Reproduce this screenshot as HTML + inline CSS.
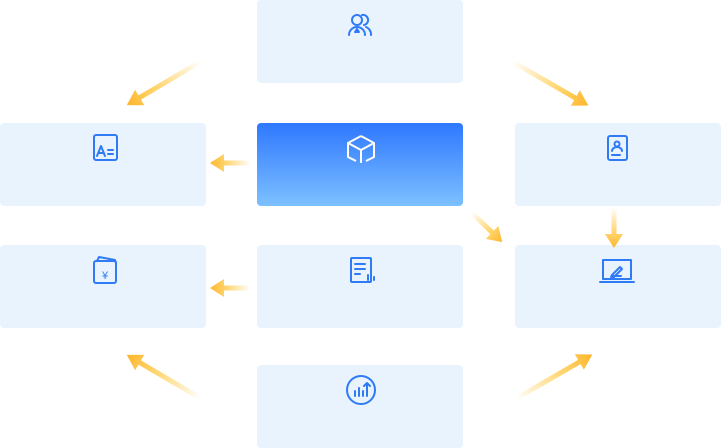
<!DOCTYPE html>
<html><head><meta charset="utf-8"><style>
html,body{margin:0;padding:0;background:#fff;}
body{width:721px;height:448px;overflow:hidden;position:relative;font-family:"Liberation Sans",sans-serif;}
.b{position:absolute;width:206px;height:83px;background:#e9f3fe;border-radius:4px;}
.c{background:linear-gradient(180deg,#2e78ff 0%,#7dc0ff 100%);}
svg{position:absolute;left:0;top:0;}
</style></head><body>
<div class="b" style="left:257px;top:0"></div>
<div class="b" style="left:0;top:123px"></div>
<div class="b c" style="left:257px;top:123px"></div>
<div class="b" style="left:515px;top:123px"></div>
<div class="b" style="left:0;top:245px"></div>
<div class="b" style="left:257px;top:245px"></div>
<div class="b" style="left:515px;top:245px"></div>
<div class="b" style="left:257px;top:365px"></div>
<svg width="721" height="448" viewBox="0 0 721 448">
<defs>
<linearGradient id="g" x1="0" y1="0" x2="1" y2="0">
<stop offset="0" stop-color="#ffc53d" stop-opacity="0"/>
<stop offset="0.6" stop-color="#ffcb4a" stop-opacity="0.8"/>
<stop offset="1" stop-color="#fdb52a"/>
</linearGradient>
<polygon id="a" points="0,-3 0,3 0,3"/>
</defs>
<g fill="url(#g)">
<!-- L = length -->
<g transform="translate(200,62) rotate(149.5)"><polygon points="0,-2.5 70,-2.5 70,-9 85,0 70,9 70,2.5 0,2.5"/></g>
<g transform="translate(513,62) rotate(30)"><polygon points="0,-2.5 72,-2.5 72,-9 87,0 72,9 72,2.5 0,2.5"/></g>
<g transform="translate(250,163) rotate(180)"><polygon points="0,-2.5 26,-2.5 26,-9 40,0 26,9 26,2.5 0,2.5"/></g>
<g transform="translate(472,213) rotate(44)"><polygon points="0,-2.5 28,-2.5 28,-9 42,0 28,9 28,2.5 0,2.5"/></g>
<g transform="translate(614,208) rotate(90)"><polygon points="0,-2.5 26,-2.5 26,-9 40,0 26,9 26,2.5 0,2.5"/></g>
<g transform="translate(250,288) rotate(180)"><polygon points="0,-2.5 26,-2.5 26,-9 40,0 26,9 26,2.5 0,2.5"/></g>
<g transform="translate(200,398) rotate(-149.5)"><polygon points="0,-2.5 70,-2.5 70,-9 85,0 70,9 70,2.5 0,2.5"/></g>
<g transform="translate(517,398) rotate(-30)"><polygon points="0,-2.5 72,-2.5 72,-9 87,0 72,9 72,2.5 0,2.5"/></g>
</g>
<g fill="none" stroke="#2f7bf5" stroke-width="2" stroke-linecap="round" stroke-linejoin="round">
<!-- users -->
<circle cx="357" cy="20" r="5"/><path d="M349 35 a8 8 0 0 1 16 0"/><path d="M362 15 a5 5 0 0 1 2 10 M366 27 a8 8 0 0 1 5 8"/><path d="M357 29 l-2 3 h4 z" fill="#2f7bf5"/>
<!-- A doc -->
<rect x="94" y="135" width="23" height="25" rx="2"/><path d="M97 156 l4 -10 l4 10 M99 153 h4 M108 150 h5 M108 154 h5"/>
<!-- contact doc -->
<rect x="608" y="136" width="19" height="24" rx="2"/><circle cx="617" cy="144" r="2.5"/><path d="M612 151 a5 4 0 0 1 10 0 M612 155 h8"/>
<!-- wallet -->
<rect x="94" y="261" width="22" height="22" rx="2"/><path d="M97 261 l2 -4 l16 3 l1 3"/>
<!-- report -->
<rect x="351" y="258" width="20" height="24" rx="1"/><path d="M355 264 h10 M355 269 h10 M355 274 h5 M368 280 v-5 M371 280 v-8 M374 280 v-3"/>
<!-- laptop -->
<rect x="603" y="260" width="28" height="19"/><path d="M600 282 h34 M612 275 l8 -8 l2 2 l-8 8 h-3 z M612 276 h9"/>
<!-- chart -->
<circle cx="361" cy="390" r="14"/><path d="M355 396 v-5 M359 396 v-8 M363 396 v-5 M367 396 v-11 M364 386 l3 -3 l3 3"/>
</g>
<text x="105" y="279" font-size="11" fill="#2f7bf5" text-anchor="middle" font-family="Liberation Sans,sans-serif">¥</text>
<g fill="none" stroke="#fff" stroke-width="2" stroke-linejoin="round">
<path d="M361 136 l13 7 v14 l-8 4 M361 136 l-13 7 v14 l8 4 M348 143 l13 7 l13 -7 M361 150 v13"/>
</g>
</svg>
</body></html>
